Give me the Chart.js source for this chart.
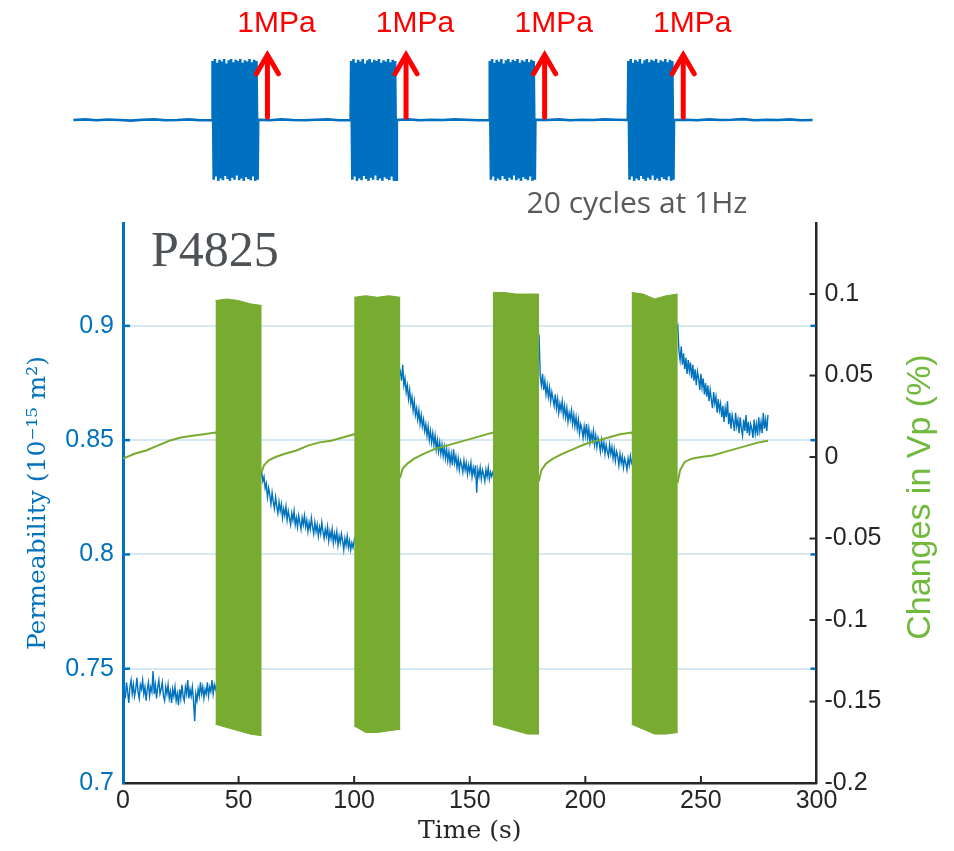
<!DOCTYPE html>
<html>
<head>
<meta charset="utf-8">
<title>P4825 permeability and Vp</title>
<script src="https://cdn.jsdelivr.net/npm/chart.js@4.4.1/dist/chart.umd.min.js"></script>
<style>
  html, body { margin: 0; padding: 0; background: #fff; }
  #wrap { position: relative; width: 954px; height: 851px; }
  #mainChart { position: absolute; left: 0; top: 0; width: 954px; height: 851px; }
  #loadChart { position: absolute; left: 0; top: 0; width: 954px; height: 222px; }
</style>
</head>
<body>
<div id="wrap">
  <canvas id="mainChart" width="954" height="851"></canvas>
  <canvas id="loadChart" width="954" height="222"></canvas>
</div>
<script>
// ---- data ----
// permeability (10^-15 m^2), one sample every 0.5 s, starting at permStarts
var permStarts = [0, 60, 120, 180, 240];
var permStep = 0.5;
var perm0 = [
  0.725, 0.741, 0.737, 0.744, 0.740, 0.735, 0.742, 0.745, 0.739, 0.743,
  0.738, 0.741, 0.746, 0.740, 0.737, 0.743, 0.741, 0.745, 0.739, 0.742,
  0.736, 0.741, 0.744, 0.738, 0.742, 0.740, 0.749, 0.739, 0.743, 0.737,
  0.742, 0.745, 0.739, 0.741, 0.744, 0.738, 0.736, 0.742, 0.739, 0.743,
  0.737, 0.740, 0.735, 0.741, 0.738, 0.742, 0.736, 0.739, 0.734, 0.741,
  0.737, 0.743, 0.738, 0.736, 0.742, 0.739, 0.745, 0.737, 0.741, 0.738,
  0.742, 0.736, 0.727, 0.739, 0.736, 0.741, 0.738, 0.744, 0.739, 0.742,
  0.737, 0.741, 0.739, 0.744, 0.738, 0.742, 0.740, 0.745, 0.739, 0.743,
  0.741];
var perm1 = [
  0.836, 0.832, 0.834, 0.829, 0.831, 0.825, 0.829, 0.826, 0.822, 0.827,
  0.823, 0.820, 0.825, 0.821, 0.818, 0.823, 0.819, 0.822, 0.816, 0.820,
  0.817, 0.821, 0.815, 0.819, 0.816, 0.813, 0.818, 0.815, 0.819, 0.813,
  0.816, 0.812, 0.817, 0.814, 0.811, 0.816, 0.813, 0.817, 0.812, 0.815,
  0.810, 0.814, 0.811, 0.816, 0.812, 0.809, 0.814, 0.810, 0.813, 0.808,
  0.812, 0.809, 0.814, 0.810, 0.807, 0.811, 0.808, 0.812, 0.806, 0.810,
  0.807, 0.811, 0.805, 0.809, 0.806, 0.810, 0.804, 0.808, 0.805, 0.809,
  0.806, 0.802, 0.807, 0.804, 0.808, 0.803, 0.806, 0.802, 0.805, 0.803,
  0.806];
var perm2 = [
  0.880, 0.876, 0.883, 0.874, 0.877, 0.871, 0.874, 0.868, 0.872, 0.866,
  0.869, 0.863, 0.867, 0.861, 0.864, 0.859, 0.863, 0.857, 0.861, 0.856,
  0.859, 0.854, 0.857, 0.852, 0.856, 0.850, 0.854, 0.849, 0.853, 0.848,
  0.852, 0.846, 0.850, 0.845, 0.849, 0.844, 0.848, 0.843, 0.847, 0.842,
  0.846, 0.841, 0.845, 0.840, 0.844, 0.839, 0.846, 0.840, 0.843, 0.838,
  0.842, 0.837, 0.841, 0.839, 0.836, 0.841, 0.837, 0.840, 0.835, 0.839,
  0.836, 0.840, 0.834, 0.838, 0.835, 0.839, 0.827, 0.837, 0.834, 0.838,
  0.833, 0.837, 0.835, 0.832, 0.837, 0.834, 0.838, 0.833, 0.836, 0.834,
  0.836];
var perm3 = [
  0.895, 0.878, 0.874, 0.879, 0.872, 0.876, 0.870, 0.874, 0.869, 0.873,
  0.867, 0.871, 0.868, 0.865, 0.870, 0.864, 0.868, 0.862, 0.866, 0.863,
  0.867, 0.861, 0.865, 0.860, 0.864, 0.858, 0.862, 0.859, 0.863, 0.857,
  0.861, 0.856, 0.860, 0.855, 0.859, 0.853, 0.857, 0.855, 0.851, 0.856,
  0.852, 0.857, 0.851, 0.855, 0.849, 0.853, 0.850, 0.854, 0.848, 0.852,
  0.847, 0.851, 0.849, 0.845, 0.850, 0.846, 0.849, 0.844, 0.848, 0.845,
  0.843, 0.848, 0.844, 0.847, 0.842, 0.846, 0.841, 0.845, 0.843, 0.839,
  0.844, 0.840, 0.843, 0.838, 0.842, 0.840, 0.837, 0.842, 0.839, 0.843,
  0.840];
var perm4 = [
  0.900, 0.889, 0.885, 0.891, 0.883, 0.888, 0.881, 0.886, 0.879, 0.885,
  0.880, 0.884, 0.877, 0.883, 0.876, 0.881, 0.874, 0.880, 0.877, 0.872,
  0.879, 0.873, 0.877, 0.870, 0.875, 0.869, 0.874, 0.867, 0.872, 0.868,
  0.864, 0.871, 0.866, 0.869, 0.862, 0.868, 0.863, 0.866, 0.860, 0.865,
  0.858, 0.864, 0.860, 0.867, 0.857, 0.862, 0.855, 0.861, 0.858, 0.854,
  0.862, 0.856, 0.859, 0.853, 0.860, 0.855, 0.852, 0.859, 0.854, 0.861,
  0.853, 0.858, 0.852, 0.857, 0.855, 0.851, 0.859, 0.853, 0.857, 0.852,
  0.860, 0.854, 0.858, 0.853, 0.862, 0.855, 0.859, 0.854, 0.861];

// changes in Vp (%) between the load bursts
var vpT0 = [0, 5, 10, 15, 20, 25, 30, 35, 40];
var vp0 = [-0.001, 0.002, 0.004, 0.007, 0.010, 0.012, 0.013, 0.014, 0.015];
var vpT1 = [60, 61, 63, 66, 70, 75, 80, 85, 90, 95, 100];
var vp1 = [-0.009, -0.005, -0.002, 0.000, 0.002, 0.004, 0.007, 0.009, 0.010, 0.012, 0.014];
var vpT2 = [120, 121, 123, 126, 130, 135, 140, 145, 150, 155, 160];
var vp2 = [-0.012, -0.007, -0.004, -0.001, 0.002, 0.005, 0.007, 0.009, 0.011, 0.013, 0.015];
var vpT3 = [180, 181, 183, 186, 190, 195, 200, 205, 210, 215, 220];
var vp3 = [-0.014, -0.008, -0.004, -0.001, 0.002, 0.005, 0.008, 0.010, 0.012, 0.014, 0.015];
var vpT4 = [240, 241, 243, 246, 250, 255, 260, 265, 270, 275, 279];
var vp4 = [-0.015, -0.008, -0.003, -0.001, 0.000, 0.001, 0.003, 0.005, 0.007, 0.009, 0.010];

// Vp oscillation envelope during each 20 s burst (samples at start + bandOffsets)
var burstStarts = [40, 100, 160, 220];
var bandOffsets = [0, 5, 10, 15, 20];
var bandTop = [
  [0.096, 0.097, 0.096, 0.094, 0.093],
  [0.098, 0.099, 0.098, 0.099, 0.098],
  [0.101, 0.101, 0.100, 0.100, 0.100],
  [0.101, 0.100, 0.097, 0.099, 0.100]
];
var bandBot = [
  [-0.164, -0.166, -0.168, -0.170, -0.171],
  [-0.165, -0.169, -0.169, -0.168, -0.167],
  [-0.164, -0.166, -0.168, -0.170, -0.170],
  [-0.164, -0.167, -0.170, -0.170, -0.169]
];

// top panel: applied load signal (relative), baseline every 5 s
var baseStarts = [-20, 60, 120, 180, 240];
var base0 = [0.000, 0.010, -0.005, 0.008, 0.000, -0.010, 0.005, 0.010, -0.005, 0.000, 0.010, -0.005, 0.000];
var base1 = [0.005, -0.005, 0.010, 0.000, -0.005, 0.005, 0.010, -0.005, 0.000];
var base2 = [0.000, 0.010, -0.005, 0.005, 0.000, 0.010, 0.005, -0.005, 0.000];
var base3 = [0.005, 0.000, 0.010, -0.005, 0.005, 0.000, 0.010, 0.005, 0.000];
var base4 = [0.000, 0.005, -0.005, 0.010, 0.000, 0.005, 0.015, -0.005, 0.005, 0.000, 0.010, -0.005, 0.000];
// 20 cycles at 1 Hz: peak and trough of each cycle
var loadPeaks = [0.97, 1.0, 0.94, 0.99, 0.96, 1.0, 0.93, 0.98, 1.0, 0.95, 0.99, 0.97, 1.0, 0.94, 0.98, 0.96, 1.0, 0.95, 0.99, 0.97];
var loadTroughs = [-0.98, -0.93, -1.0, -0.96, -0.99, -0.92, -0.97, -1.0, -0.95, -0.98, -0.91, -0.99, -0.96, -1.0, -0.94, -0.97, -0.99, -0.93, -1.0, -0.98];
var arrowTimes = [64, 124, 184, 244];
var arrowLabel = '1MPa';

var BLUE = '#0072BD';
var GREEN = '#77AC30';
var SANS = "'Liberation Sans', Arial, sans-serif";
var SERIF = "'DejaVu Serif', serif";

function fmt(v) { return parseFloat(v.toFixed(2)).toString(); }

// ---- build point lists ----
var permSeries = [];
[perm0, perm1, perm2, perm3, perm4].forEach(function (seg, k) {
    seg.forEach(function (v, i) { permSeries.push({ x: permStarts[k] + i * permStep, y: v }); });
});

var vpSeries = [];
var vpTimes = [vpT0, vpT1, vpT2, vpT3, vpT4];
[vp0, vp1, vp2, vp3, vp4].forEach(function (seg, k) {
    seg.forEach(function (v, i) { vpSeries.push({ x: vpTimes[k][i], y: v }); });
});

var datasets = [{
    label: 'Changes in Vp', data: vpSeries, yAxisID: 'yR',
    borderColor: GREEN, borderWidth: 2, pointRadius: 0, fill: false
}];
burstStarts.forEach(function (t0, k) {
    datasets.push({
        label: 'Vp burst top', yAxisID: 'yR',
        data: bandOffsets.map(function (o, i) { return { x: t0 + o, y: bandTop[k][i] }; }),
        borderColor: GREEN, backgroundColor: GREEN, borderWidth: 1, pointRadius: 0, fill: '+1'
    });
    datasets.push({
        label: 'Vp burst bottom', yAxisID: 'yR',
        data: bandOffsets.map(function (o, i) { return { x: t0 + o, y: bandBot[k][i] }; }),
        borderColor: GREEN, borderWidth: 1, pointRadius: 0, fill: false
    });
});
datasets.push({
    label: 'Permeability', data: permSeries, yAxisID: 'y',
    borderColor: BLUE, borderWidth: 1.4, pointRadius: 0, fill: false
});

// inward ticks, right axis title and sample name
var axisDecor = {
    id: 'axisDecor',
    afterDraw: function (chart) {
        var ctx = chart.ctx, a = chart.chartArea;
        var sx = chart.scales.x, sl = chart.scales.y, sr = chart.scales.yR;
        ctx.save();
        ctx.lineWidth = 2;
        ctx.strokeStyle = '#262626';
        sx.ticks.forEach(function (t) {
            if (t.value <= sx.min || t.value >= sx.max) return;
            var px = sx.getPixelForValue(t.value);
            ctx.beginPath(); ctx.moveTo(px, a.bottom); ctx.lineTo(px, a.bottom - 7); ctx.stroke();
        });
        sr.ticks.forEach(function (t) {
            if (t.value <= sr.min + 1e-9) return;
            var py = sr.getPixelForValue(t.value);
            ctx.beginPath(); ctx.moveTo(a.right, py); ctx.lineTo(a.right - 7, py); ctx.stroke();
        });
        ctx.strokeStyle = BLUE;
        ctx.lineWidth = 2.5;
        sl.ticks.forEach(function (t) {
            if (t.value <= sl.min + 1e-9) return;
            var py = sl.getPixelForValue(t.value);
            ctx.beginPath(); ctx.moveTo(a.left, py); ctx.lineTo(a.left + 7, py); ctx.stroke();
            ctx.beginPath(); ctx.moveTo(a.right - 6, py); ctx.lineTo(a.right - 1, py); ctx.stroke();
        });

        ctx.fillStyle = '#70B93C';
        ctx.font = '34px ' + SANS;
        ctx.textAlign = 'center';
        ctx.textBaseline = 'alphabetic';
        ctx.translate(930, (a.top + a.bottom) / 2 - 6);
        ctx.rotate(-Math.PI / 2);
        ctx.fillText('Changes in Vp (%)', 0, 0);
        ctx.restore();

        ctx.save();
        ctx.fillStyle = '#4d5257';
        ctx.font = "50px 'Liberation Serif', serif";
        ctx.textAlign = 'left';
        ctx.textBaseline = 'alphabetic';
        ctx.fillText('P4825', a.left + 28, a.top + 43);
        ctx.restore();
    }
};

new Chart(document.getElementById('mainChart').getContext('2d'), {
    type: 'line',
    data: { datasets: datasets },
    options: {
        responsive: false, animation: false, devicePixelRatio: 1,
        layout: { padding: { top: 223, left: 0, right: 0, bottom: 0 } },
        plugins: { legend: { display: false }, tooltip: { enabled: false } },
        scales: {
            x: {
                type: 'linear', position: 'bottom', min: 0, max: 300,
                afterFit: function (s) { s.height = 68; },
                grid: { display: false, drawTicks: false },
                border: { color: '#262626', width: 2.5 },
                ticks: { stepSize: 50, color: '#262626', font: { family: SANS, size: 25 }, padding: 3, maxRotation: 0 },
                title: { display: true, text: 'Time (s)', color: '#262626', font: { family: SERIF, size: 25 }, padding: { top: 0, bottom: 5 } }
            },
            y: {
                type: 'linear', position: 'left', min: 0.7, max: 0.945,
                afterFit: function (s) { s.width = 123; },
                grid: {
                    drawTicks: false, lineWidth: 2,
                    color: function (c) { return c.tick && c.tick.value > 0.71 ? 'rgba(0,114,189,0.16)' : 'rgba(0,0,0,0)'; }
                },
                border: { color: BLUE, width: 3 },
                ticks: { stepSize: 0.05, includeBounds: false, color: BLUE, font: { family: SANS, size: 25 }, padding: 9, callback: fmt },
                title: { display: true, text: 'Permeability (10⁻¹⁵ m²)', color: BLUE, font: { family: SERIF, size: 25 }, padding: { top: 23, bottom: 0 } }
            },
            yR: {
                type: 'linear', position: 'right', min: -0.2, max: 0.1436,
                afterFit: function (s) { s.width = 137.5; },
                grid: { display: false, drawTicks: false },
                border: { color: '#262626', width: 2.5 },
                ticks: { stepSize: 0.05, includeBounds: false, color: '#262626', font: { family: SANS, size: 25 }, padding: 8, callback: fmt }
            }
        }
    },
    plugins: [axisDecor]
});

// ---- top panel: load signal ----
var loadSeries = [];
[base0, base1, base2, base3, base4].forEach(function (seg, k) {
    seg.forEach(function (v, i) { loadSeries.push({ x: baseStarts[k] + 5 * i, y: v }); });
    if (k < burstStarts.length) {
        var t0 = burstStarts[k];
        loadPeaks.forEach(function (p, i) {
            loadSeries.push({ x: t0 + i + 0.25, y: p });
            loadSeries.push({ x: t0 + i + 0.75, y: loadTroughs[i] });
        });
    }
});

var loadDecor = {
    id: 'loadDecor',
    afterDraw: function (chart) {
        var ctx = chart.ctx, xs = chart.scales.x, ys = chart.scales.y;
        ctx.save();
        ctx.strokeStyle = '#FF0000';
        ctx.fillStyle = '#FF0000';
        ctx.lineWidth = 5;
        ctx.lineCap = 'round';
        ctx.lineJoin = 'miter';
        ctx.font = '30px ' + SANS;
        ctx.textAlign = 'center';
        ctx.textBaseline = 'middle';
        arrowTimes.forEach(function (t) {
            var x = xs.getPixelForValue(t);
            var yb = ys.getPixelForValue(0) - 3;
            var yt = ys.getPixelForValue(1.07);
            ctx.beginPath(); ctx.moveTo(x, yb); ctx.lineTo(x, yt + 2); ctx.stroke();
            ctx.beginPath(); ctx.moveTo(x - 11, yt + 19); ctx.lineTo(x, yt); ctx.lineTo(x + 11, yt + 19); ctx.stroke();
            ctx.fillText(arrowLabel, x + 9, yt - 31);
        });
        ctx.fillStyle = '#595959';
        ctx.font = "30px 'Open Sans', sans-serif";
        ctx.textBaseline = 'alphabetic';
        ctx.fillText('20 cycles at 1Hz', 637, 213);
        ctx.restore();
    }
};

new Chart(document.getElementById('loadChart').getContext('2d'), {
    type: 'line',
    data: {
        datasets: [{
            label: 'Load', data: loadSeries,
            borderColor: '#0070C0', borderWidth: 2.6, pointRadius: 0, fill: false, clip: false
        }]
    },
    options: {
        responsive: false, animation: false, devicePixelRatio: 1,
        layout: { padding: { top: 50, left: 73.4, right: 141.4, bottom: 32 } },
        plugins: { legend: { display: false }, tooltip: { enabled: false } },
        scales: {
            x: { type: 'linear', min: -20, max: 300, display: false },
            y: { type: 'linear', min: -1.15, max: 1.15, display: false }
        }
    },
    plugins: [loadDecor]
});
</script>
</body>
</html>
